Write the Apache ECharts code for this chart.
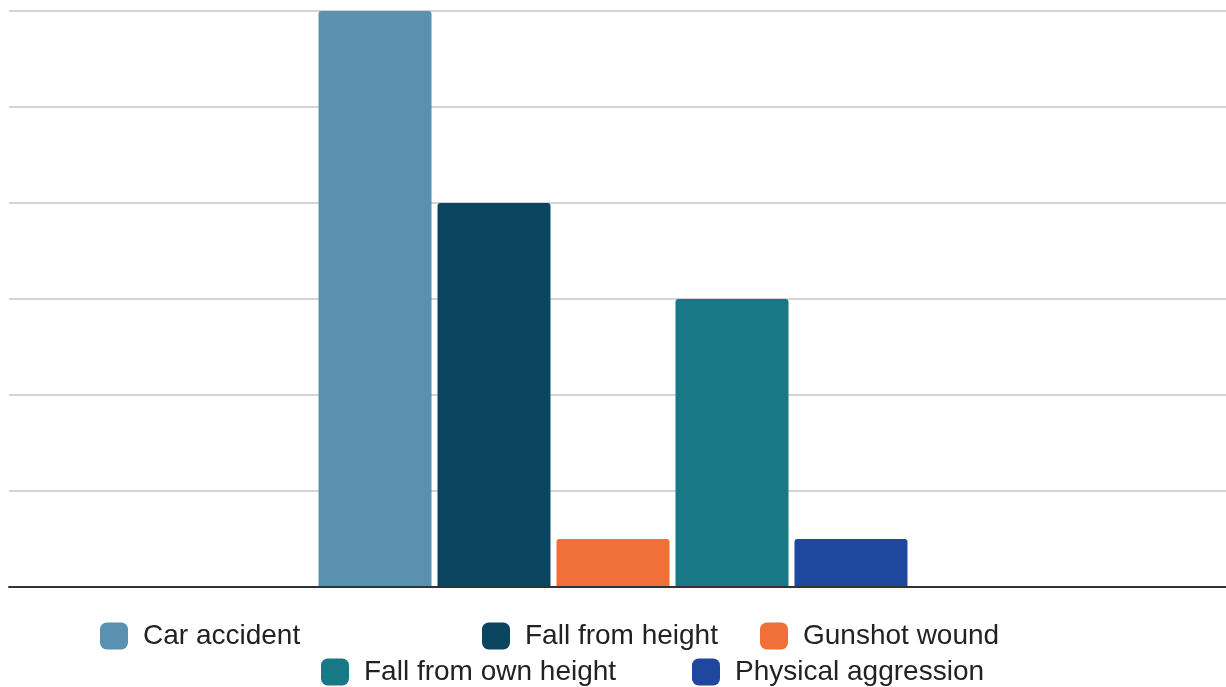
<!DOCTYPE html>
<html>
<head>
<meta charset="utf-8">
<script src="https://cdn.jsdelivr.net/npm/echarts@6/dist/echarts.min.js"></script>
<style>
  html, body { margin: 0; padding: 0; background: #ffffff; }
  #chart { width: 1226px; height: 687px; }
</style>
</head>
<body>
<div id="chart"></div>
<script>
// Injury mechanism counts, one bar per mechanism
const categories = ['Mechanism'];
const seriesNames = ['Car accident', 'Fall from height', 'Gunshot wound', 'Fall from own height', 'Physical aggression'];
const seriesValues = [12, 8, 1, 6, 1];
const seriesColors = ['#5a91b0', '#0a4560', '#f07038', '#177886', '#1e479d'];

const chart = echarts.init(document.getElementById('chart'));

const series = seriesNames.map((name, i) => ({
  name: name,
  type: 'bar',
  xAxisIndex: 0,
  yAxisIndex: 0,
  data: [seriesValues[i]],
  barWidth: 113,
  barGap: '5.3%',
  itemStyle: { color: seriesColors[i], borderRadius: [3, 3, 0, 0] }
}));

// Legend entries are placed individually in two rows
const legendPos = [
  { left: 100, top: 622 },
  { left: 482, top: 622 },
  { left: 760, top: 622 },
  { left: 321, top: 658 },
  { left: 692, top: 658 }
];
const legends = seriesNames.map((name, i) => ({
  data: [name],
  left: legendPos[i].left,
  top: legendPos[i].top,
  padding: 0,
  icon: 'roundRect',
  itemWidth: 28,
  itemHeight: 27,
  itemGap: 0,
  selectedMode: false,
  textStyle: {
    fontFamily: 'Liberation Sans, Arial, sans-serif',
    fontSize: 28,
    color: '#222222',
    padding: [0, 0, 0, 10]
  }
}));

const valueAxisBase = {
  type: 'value',
  min: 0,
  max: 12,
  interval: 2,
  axisLine: { show: false },
  axisTick: { show: false },
  axisLabel: { show: false }
};

chart.setOption({
  backgroundColor: '#ffffff',
  animation: false,
  legend: legends,
  grid: [
    // grid 0 carries the bars
    { left: 0, right: 0, top: 11, bottom: 100, containLabel: false },
    // grid 1 carries the gridlines and baseline
    { left: 9, right: 0, top: 11, bottom: 100, containLabel: false }
  ],
  xAxis: [
    {
      type: 'category', gridIndex: 0, data: categories,
      axisLine: { show: false }, axisTick: { show: false }, axisLabel: { show: false }
    },
    {
      type: 'category', gridIndex: 1, data: categories, z: 5,
      axisLine: { show: true, lineStyle: { color: '#333333', width: 2 } },
      axisTick: { show: false }, axisLabel: { show: false }
    }
  ],
  yAxis: [
    Object.assign({ gridIndex: 0, splitLine: { show: false } }, valueAxisBase),
    Object.assign({ gridIndex: 1, splitLine: { lineStyle: { color: '#d4d4d4', width: 2 } } }, valueAxisBase)
  ],
  series: series
});
</script>
</body>
</html>
